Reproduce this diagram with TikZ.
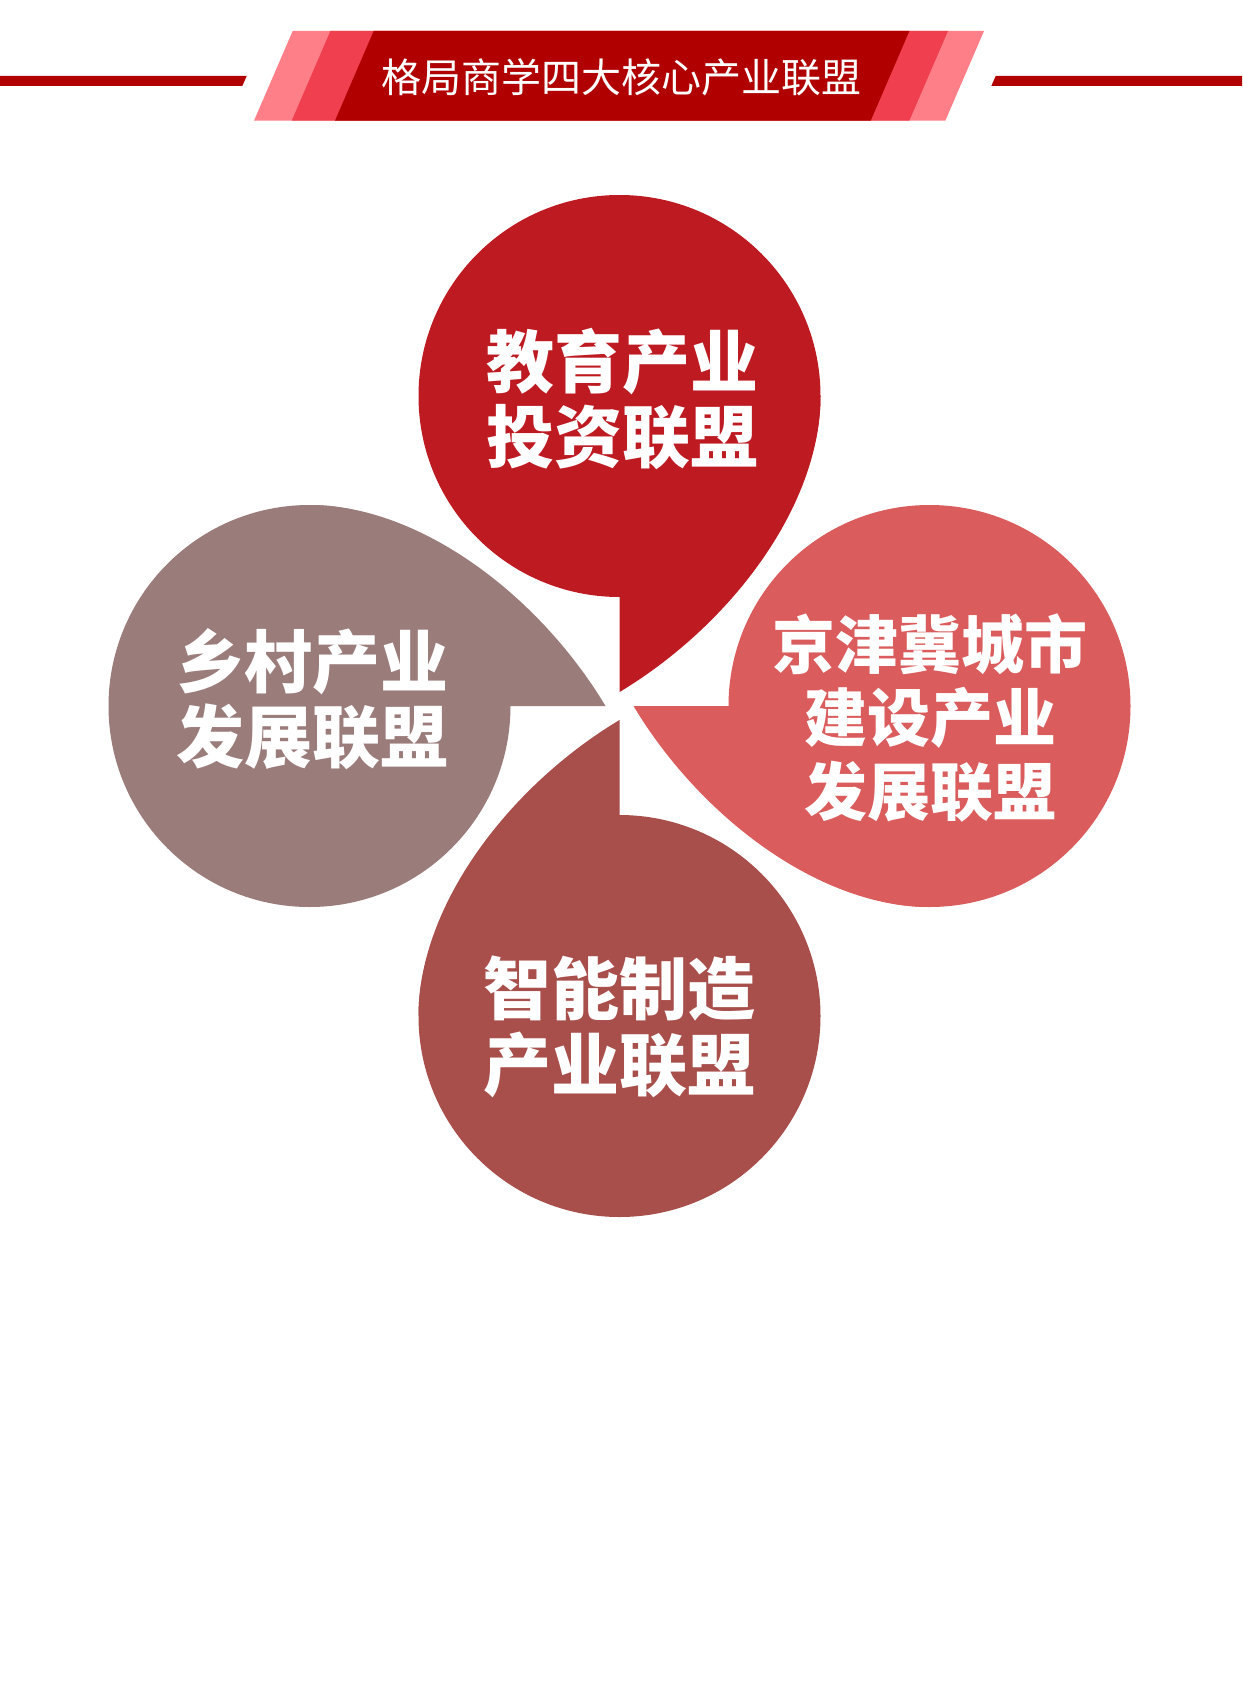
\documentclass[tikz,border=0pt]{standalone}
\usepackage{fontspec}
\newfontfamily\cjk{Noto Sans CJK SC}
\definecolor{hdark}{RGB}{176,0,0}
\definecolor{hmid}{RGB}{240,64,80}
\definecolor{hpink}{RGB}{255,127,137}
\definecolor{ptop}{RGB}{190,26,34}
\definecolor{pright}{RGB}{219,92,92}
\definecolor{pleft}{RGB}{154,124,123}
\definecolor{pbottom}{RGB}{168,78,75}
\newcommand\petalfill[1]{%
  \fill[#1] (0,-310) circle[radius=201pt];
  \fill[#1] (0,-14) -- (0,-310) -- (201,-310) .. controls (201,-199) and (110,-80) .. (0,-14) -- cycle;
}
\begin{document}
\begin{tikzpicture}[x=1pt,y=-1pt,
  title/.style={text=white, anchor=base, inner sep=0pt, font=\cjk\fontsize{40}{40}\selectfont},
  bigtext/.style={text=white, anchor=base, inner sep=0pt, font=\cjk\bfseries\fontsize{68}{68}\selectfont},
  midtext/.style={text=white, anchor=base, inner sep=0pt, font=\cjk\bfseries\fontsize{63}{63}\selectfont}]
\useasboundingbox (0,0) rectangle (1242,1707);
\fill[white] (0,0) rectangle (1242,1707);
% header
\fill[hdark] (0,76) -- (246.7,76) -- (242.3,86) -- (0,86) -- cycle;
\fill[hdark] (995.7,76) -- (1242,76) -- (1242,86) -- (991.3,86) -- cycle;
\fill[hpink] (292.7,31) -- (984,31) -- (945.3,120.7) -- (254,120.7) -- cycle;
\fill[hmid] (330.4,31) -- (948,31) -- (909.3,120.7) -- (291.7,120.7) -- cycle;
\fill[hdark] (373.7,31) -- (909.4,31) -- (870.7,120.7) -- (335,120.7) -- cycle;
\node[title] (ttl) at (621,92.7) {格局商学四大核心产业联盟};
% petals
\coordinate (C) at (619.5,706);
\begin{scope}[shift={(C)}]\petalfill{ptop}\end{scope}
\begin{scope}[shift={(C)},rotate=-90]\petalfill{pright}\end{scope}
\begin{scope}[shift={(C)},rotate=180]\petalfill{pbottom}\end{scope}
\begin{scope}[shift={(C)},rotate=90]\petalfill{pleft}\end{scope}
% texts
\node[bigtext] (t1) at (622,387.5) {教育产业};
\node[bigtext] (t2) at (622,462) {投资联盟};
\node[bigtext] (l1) at (312,687.8) {乡村产业};
\node[bigtext] (l2) at (312,762.8) {发展联盟};
\node[bigtext] (b1) at (619.5,1014) {智能制造};
\node[bigtext] (b2) at (619.5,1090) {产业联盟};
\node[midtext] (r1) at (930,668) {京津冀城市};
\node[midtext] (r2) at (930,741) {建设产业};
\node[midtext] (r3) at (930,815.5) {发展联盟};
\end{tikzpicture}
\end{document}
